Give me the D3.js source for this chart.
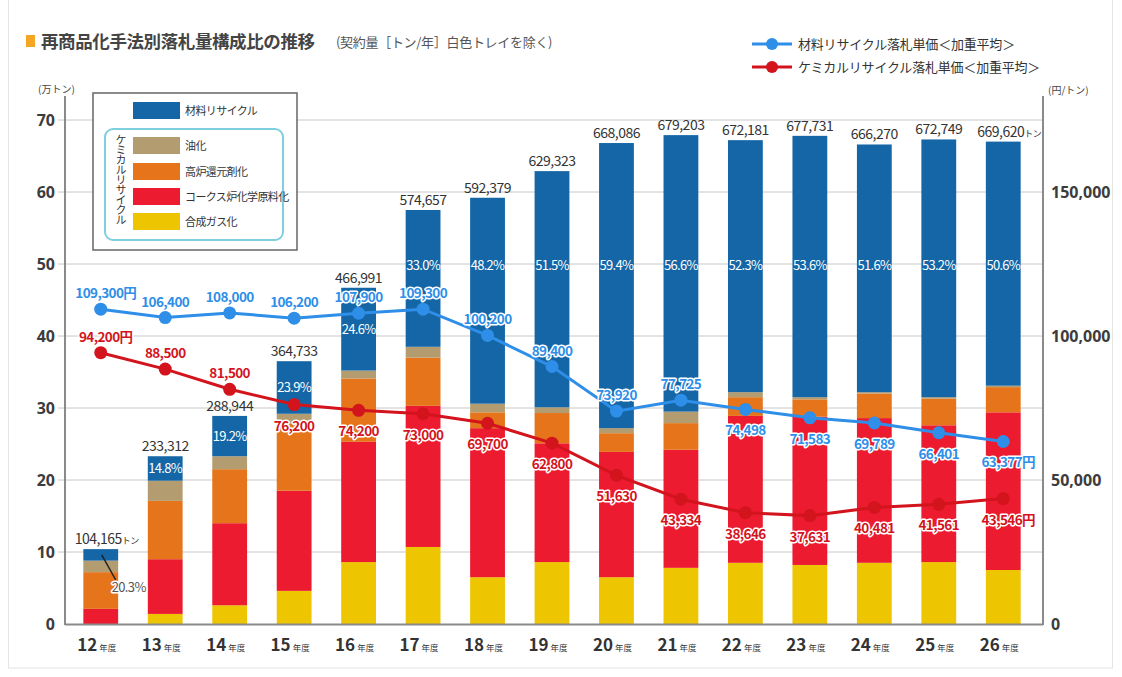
<!DOCTYPE html>
<html>
<head>
<meta charset="utf-8">
<script src="https://cdn.jsdelivr.net/npm/d3@7"></script>
<style>
  body { margin: 0; background: #fff; font-family: "Noto Sans CJK JP", "Noto Sans", sans-serif; }
  .halo { paint-order: stroke; stroke: #fff; stroke-linejoin: round; }
</style>
</head>
<body>
<svg id="chart" width="1122" height="677"></svg>
<script>
// fiscal years (平成)
const years = ["12", "13", "14", "15", "16", "17", "18", "19", "20", "21", "22", "23", "24", "25", "26"];
// total contracted volume (トン)
const totals = [104165, 233312, 288944, 364733, 466991, 574657, 592379, 629323, 668086, 679203, 672181, 677731, 666270, 672749, 669620];
const materialPct = ["20.3%", "14.8%", "19.2%", "23.9%", "24.6%", "33.0%", "48.2%", "51.5%", "59.4%", "56.6%", "52.3%", "53.6%", "51.6%", "53.2%", "50.6%"];

// segments (万トン)
const material     = [1.6, 3.4, 5.6, 7.3, 11.5, 19.0, 28.6, 32.8, 39.6, 38.4, 35.0, 36.3, 34.4, 35.8, 33.9];
const oil          = [1.6, 2.8, 1.8, 1.4, 1.1, 1.5, 1.2, 0.8, 0.7, 1.6, 0.7, 0.3, 0.2, 0.2, 0.2];
const blastFurnace = [5.1, 8.1, 7.5, 9.3, 8.8, 6.7, 2.2, 4.2, 2.6, 3.7, 2.6, 2.4, 3.4, 3.7, 3.5];
const cokeOven     = [2.1, 7.6, 11.4, 13.9, 16.7, 19.6, 20.7, 16.5, 17.4, 16.4, 20.4, 20.6, 20.1, 19.0, 21.9];
const gasification = [0, 1.4, 2.6, 4.6, 8.6, 10.7, 6.5, 8.6, 6.5, 7.8, 8.5, 8.2, 8.5, 8.6, 7.5];

// weighted average bid prices (円/トン)
const materialPrice = [109300, 106400, 108000, 106200, 107900, 109300, 100200, 89400, 73920, 77725, 74498, 71583, 69789, 66401, 63377];
const chemicalPrice = [94200, 88500, 81500, 76200, 74200, 73000, 69700, 62800, 51630, 43334, 38646, 37631, 40481, 41561, 43546];

const leftTicks = [0, 10, 20, 30, 40, 50, 60, 70];
const rightTicks = [0, 50000, 100000, 150000];

const segNames = ["材料リサイクル", "油化", "高炉還元剤化", "コークス炉化学原料化", "合成ガス化"];
const colors = {
    material: "#1466a6",
    oil: "#b39c6f",
    blastFurnace: "#e5741a",
    cokeOven: "#ec1b30",
    gasification: "#edc500"
};
const blueLine = "#2e8ee8";
const redLine = "#d3141d";

const svg = d3.select("#chart");
const fmt = d3.format(",");

const x = d3.scaleBand().domain(years).range([64, 1040]).paddingInner(0.46).paddingOuter(0.3);
const y = d3.scaleLinear().domain([0, 70]).range([624, 120]);
const yR = d3.scaleLinear().domain([0, 175000]).range([624, 120]);
const cx = d => x(d) + x.bandwidth() / 2;

// frame
svg.append("rect").attr("x", 8.5).attr("y", -2).attr("width", 1104).attr("height", 670)
    .attr("fill", "none").attr("stroke", "#e4e4e4");

// title
svg.append("rect").attr("x", 26).attr("y", 35).attr("width", 9).attr("height", 12).attr("fill", "#f5a524");
svg.append("text").attr("x", 41).attr("y", 48).attr("font-size", 17.5).attr("font-weight", "bold")
    .attr("letter-spacing", -0.4).attr("fill", "#444").text("再商品化手法別落札量構成比の推移");
svg.append("text").attr("x", 336).attr("y", 47).attr("font-size", 13).attr("fill", "#555")
    .attr("letter-spacing", -0.3).text("(契約量［トン/年］白色トレイを除く)");

// gridlines
svg.append("g").selectAll("line").data(leftTicks.filter(t => t > 0)).join("line")
    .attr("x1", 58).attr("x2", 1043).attr("y1", d => y(d)).attr("y2", d => y(d))
    .attr("stroke", "#c8c8c8").attr("stroke-width", 1);

// axes
const gL = svg.append("g").attr("transform", "translate(65,0)")
    .call(d3.axisLeft(y).tickValues(leftTicks).tickSize(0).tickPadding(10));
const gR = svg.append("g").attr("transform", "translate(1043,0)")
    .call(d3.axisRight(yR).tickValues(rightTicks).tickSize(0).tickPadding(8).tickFormat(fmt));
[gL, gR].forEach(g => {
    g.select(".domain").remove();
    g.selectAll("text").attr("font-size", 16).attr("font-weight", "bold").attr("fill", "#3c3c3c")
        .attr("font-family", "'Noto Sans', sans-serif");
});
svg.append("line").attr("x1", 65).attr("x2", 65).attr("y1", 96).attr("y2", 625).attr("stroke", "#8a8a8a").attr("stroke-width", 2);
svg.append("line").attr("x1", 1043).attr("x2", 1043).attr("y1", 96).attr("y2", 625).attr("stroke", "#8a8a8a").attr("stroke-width", 2);

svg.append("text").attr("x", 38).attr("y", 93).attr("font-size", 10).attr("fill", "#444").text("(万トン)");
svg.append("text").attr("x", 1048).attr("y", 94).attr("font-size", 10).attr("fill", "#444").text("(円/トン)");

// stacked bars
const keys = ["gasification", "cokeOven", "blastFurnace", "oil", "material"];
const rows = years.map((yr, i) => ({
    year: yr,
    material: material[i], oil: oil[i], blastFurnace: blastFurnace[i],
    cokeOven: cokeOven[i], gasification: gasification[i]
}));
const series = d3.stack().keys(keys)(rows);

svg.append("g").selectAll("g").data(series).join("g")
    .attr("fill", s => colors[s.key])
    .selectAll("rect").data(s => s).join("rect")
    .attr("x", d => x(d.data.year))
    .attr("width", x.bandwidth())
    .attr("y", d => y(d[1]))
    .attr("height", d => Math.max(0, y(d[0]) - y(d[1])));

svg.append("line").attr("x1", 65).attr("x2", 1043).attr("y1", 624.5).attr("y2", 624.5)
    .attr("stroke", "#8a8a8a").attr("stroke-width", 2);

// x labels
const xl = svg.append("g").selectAll("text").data(years).join("text")
    .attr("x", d => cx(d) - 4).attr("y", 651).attr("text-anchor", "middle")
    .attr("fill", "#333");
xl.append("tspan").attr("font-size", 17).attr("font-weight", "bold").text(d => d);
xl.append("tspan").attr("font-size", 8.5).attr("dx", 2).text("年度");

// totals above bars
const stackTop = series[series.length - 1];
const totalLabels = svg.append("g").selectAll("text").data(years).join("text")
    .attr("x", (d, i) => cx(d) + (i === 0 || i === years.length - 1 ? 6 : 0))
    .attr("y", (d, i) => y(stackTop[i][1]) - 5)
    .attr("text-anchor", "middle").attr("font-size", 14).attr("letter-spacing", -0.5)
    .attr("fill", "#333");
totalLabels.append("tspan").text((d, i) => fmt(totals[i]));
totalLabels.filter((d, i) => i === 0 || i === years.length - 1)
    .append("tspan").attr("font-size", 9).text("トン");

// material share labels
const matSeg = series[series.length - 1];
years.forEach((yr, i) => {
    const seg = matSeg[i];
    if (i === 0) {
        const ly = y((seg[0] + seg[1]) / 2 - 4.6);
        svg.append("line").attr("x1", cx(yr) + 1).attr("y1", y((seg[0] + seg[1]) / 2))
            .attr("x2", cx(yr) + 15).attr("y2", ly - 8).attr("stroke", "#222").attr("stroke-width", 1.5);
        svg.append("text").attr("class", "halo").attr("stroke-width", 3)
            .attr("x", cx(yr) + 28).attr("y", ly + 4).attr("text-anchor", "middle")
            .attr("font-size", 13).attr("letter-spacing", -0.6).attr("fill", "#555").text(materialPct[i]);
        return;
    }
    const v = stackTop[i][1] > 55 ? 49.8 : (seg[0] + seg[1]) / 2;
    svg.append("text").attr("x", cx(yr)).attr("y", y(v) + 4.5).attr("text-anchor", "middle")
        .attr("font-size", 13).attr("letter-spacing", -0.7).attr("fill", "#fff").text(materialPct[i]);
});

// price lines
function drawPrice(values, color, belowFrom) {
    const pts = values.map((v, i) => [cx(years[i]), yR(v)]);
    const g = svg.append("g");
    g.append("path").attr("d", d3.line()(pts)).attr("fill", "none")
        .attr("stroke", color).attr("stroke-width", 3);
    g.selectAll("text.price").data(values).join("text")
        .attr("class", "price halo").attr("stroke-width", 3)
        .attr("x", (d, i) => pts[i][0] + (i === 0 || i === values.length - 1 ? 5 : 0))
        .attr("y", (d, i) => pts[i][1] + (i >= belowFrom ? 26 : -11))
        .attr("text-anchor", "middle").attr("font-size", 13.5).attr("font-weight", "bold")
        .attr("letter-spacing", -0.6).attr("fill", color)
        .text((d, i) => fmt(d) + (i === 0 || i === values.length - 1 ? "円" : ""));
    g.selectAll("circle.node").data(pts).join("circle")
        .attr("class", "node")
        .attr("cx", d => d[0]).attr("cy", d => d[1]).attr("r", 6.5)
        .style("fill", color).style("stroke", "none");
}
drawPrice(materialPrice, blueLine, 10);
drawPrice(chemicalPrice, redLine, 3);

// line legend
const lineLegend = [
    { label: "材料リサイクル落札単価＜加重平均＞", color: blueLine },
    { label: "ケミカルリサイクル落札単価＜加重平均＞", color: redLine }
];
lineLegend.forEach((d, i) => {
    const ly = 44 + i * 23;
    svg.append("line").attr("x1", 752).attr("x2", 792).attr("y1", ly).attr("y2", ly)
        .attr("stroke", d.color).attr("stroke-width", 3);
    svg.append("circle").attr("cx", 772).attr("cy", ly).attr("r", 6).attr("fill", d.color);
    svg.append("text").attr("x", 798).attr("y", ly + 5).attr("font-size", 13).attr("fill", "#333")
        .attr("letter-spacing", -0.2).text(d.label);
});

// bar legend
const lg = svg.append("g");
lg.append("rect").attr("x", 93).attr("y", 93).attr("width", 204).attr("height", 157)
    .attr("fill", "#fff").attr("stroke", "#666").attr("stroke-width", 1.5);
lg.append("rect").attr("x", 105).attr("y", 129).attr("width", 178).attr("height", 111).attr("rx", 8)
    .attr("fill", "none").attr("stroke", "#7fd0de").attr("stroke-width", 2);
lg.append("text").attr("x", 121).attr("y", 134).attr("font-size", 11).attr("fill", "#333")
    .attr("writing-mode", "tb").attr("letter-spacing", -1).text("ケミカルリサイクル");
const legKeys = ["material", "oil", "blastFurnace", "cokeOven", "gasification"];
const legY = [102, 137, 163, 188, 213];
legKeys.forEach((k, i) => {
    lg.append("rect").attr("x", 133).attr("y", legY[i]).attr("width", 47).attr("height", 17).attr("fill", colors[k]);
    lg.append("text").attr("x", 185).attr("y", legY[i] + 13).attr("font-size", 11)
        .attr("letter-spacing", -0.6).attr("fill", "#333").text(segNames[i]);
});
</script>
</body>
</html>
